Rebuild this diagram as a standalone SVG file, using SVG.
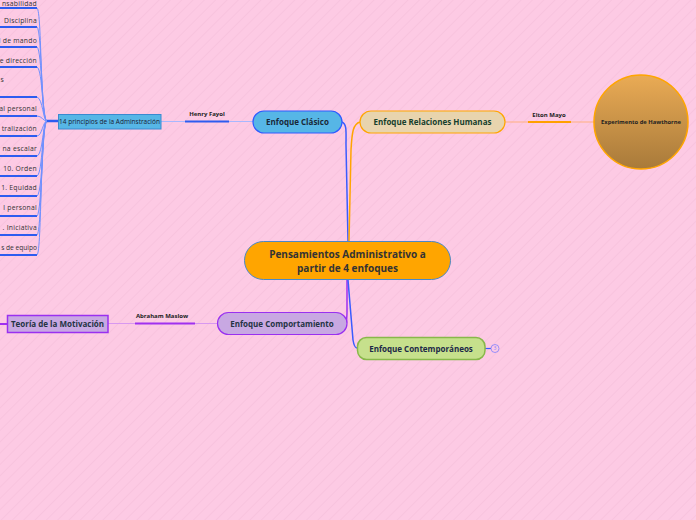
<svg xmlns="http://www.w3.org/2000/svg" width="696" height="520" viewBox="0 0 696 520">
<defs>
<pattern id="stripes" width="8" height="8" patternUnits="userSpaceOnUse" patternTransform="rotate(45)">
<rect width="8" height="8" fill="#fdcae4"/>
<line x1="0" y1="0" x2="0" y2="8" stroke="#f4bcd8" stroke-width="1"/>
</pattern>
<linearGradient id="circ" x1="0" y1="0" x2="0" y2="1">
<stop offset="0" stop-color="#eaab55"/>
<stop offset="1" stop-color="#a87a3a"/>
</linearGradient>
<style>
text{font-family:"Open Sans","Noto Sans","Liberation Sans",sans-serif;}
.item{font-size:6.8px;fill:#333;text-anchor:end;letter-spacing:0.25px;}
.ul{stroke:#2c5cf0;stroke-width:2;fill:none;}
.br{stroke:#7090ff;stroke-width:1;fill:none;}
.lbl{font-size:6px;font-weight:bold;fill:#222;text-anchor:middle;}
.title{font-size:8px;font-weight:bold;text-anchor:middle;}
</style>
</defs>
<rect width="696" height="520" fill="url(#stripes)"/>

<g id="connectors">
<g>
<path class="ul" d="M0 8 H37"/>
<path class="ul" d="M0 27 H37"/>
<path class="ul" d="M0 47 H37"/>
<path class="ul" d="M0 67 H37"/>
<path class="ul" d="M0 97 H37"/>
<path class="ul" d="M0 116 H37"/>
<path class="ul" d="M0 136 H37"/>
<path class="ul" d="M0 156 H37"/>
<path class="ul" d="M0 176 H37"/>
<path class="ul" d="M0 196 H37"/>
<path class="ul" d="M0 216 H37"/>
<path class="ul" d="M0 235 H37"/>
<path class="ul" d="M0 255 H37"/>
<path class="br" d="M47 121 C40 121 42 11 37 8"/>
<path class="br" d="M47 121 C41 121 42 30 37 27"/>
<path class="br" d="M47 121 C42 121 42 50 37 47"/>
<path class="br" d="M47 121 C42 121 43 70 37 67"/>
<path class="br" d="M47 121 C43 121 43 99 37 97"/>
<path class="br" d="M47 121 C43 121 42 116 37 116"/>
<path class="br" d="M47 121 C43 121 42 136 37 136"/>
<path class="br" d="M47 121 C43 121 43 154 37 156"/>
<path class="br" d="M47 121 C42 121 43 173 37 176"/>
<path class="br" d="M47 121 C42 121 43 193 37 196"/>
<path class="br" d="M47 121 C42 121 42 213 37 216"/>
<path class="br" d="M47 121 C41 121 42 232 37 235"/>
<path class="br" d="M47 121 C40 121 42 252 37 255"/>
<path d="M47 121 H58" stroke="#2c5cf0" stroke-width="2.5"/>
</g>
<path d="M161 121.5 H253" stroke="#a8b8ff" stroke-width="1.2"/>
<path d="M185 121.5 H229" stroke="#2c5cf0" stroke-width="2"/>
<text class="lbl" x="207" y="116">Henry Fayol</text>
<path d="M505 122 H594" stroke="#ffb080" stroke-width="1.2"/>
<path d="M528 122 H571" stroke="#ffa000" stroke-width="2"/>
<text class="lbl" x="549" y="116.5">Elton Mayo</text>
<path d="M108 323.5 H217" stroke="#d898f0" stroke-width="1.2"/>
<path d="M135 323.5 H195" stroke="#a030f0" stroke-width="2"/>
<path d="M0 324 H7" stroke="#a030f0" stroke-width="2"/>
<text class="lbl" x="162" y="318">Abraham  Maslow</text>
<path d="M342 122 C347 124 346 132 346 145 L348 241" stroke="#3a5cff" stroke-width="1.5" fill="none"/>
<path d="M360 122 C353 124 352 132 351 150 L349 241" stroke="#ffa500" stroke-width="1.5" fill="none"/>
<path d="M347 280 L347 312 C347 318 346 322 347 323" stroke="#a030f0" stroke-width="1.5" fill="none"/>
<path d="M348 280 L353 340 C354 346 355 348 357 348" stroke="#3a5cff" stroke-width="1.5" fill="none"/>
<path d="M485 348.5 H491" stroke="#3a5cff" stroke-width="1.2"/>
</g>

<g id="principles">
<text class="item" x="37" y="5.5">nsabilidad</text>
<text class="item" x="37" y="23">Disciplina</text>
<text class="item" x="37" y="43">l de mando</text>
<text class="item" x="37" y="63">e dirección</text>
<text class="item" x="4" y="82">s</text>
<text class="item" x="37" y="111">al personal</text>
<text class="item" x="37" y="131">tralización</text>
<text class="item" x="37" y="151">na escalar</text>
<text class="item" x="37" y="171">10.  Orden</text>
<text class="item" x="37" y="190">1.  Equidad</text>
<text class="item" x="37" y="210">l personal</text>
<text class="item" x="37" y="230">.  Iniciativa</text>
<text class="item" x="37" y="250" style="letter-spacing:0;font-size:6.6px">s de equipo</text>
</g>

<g id="principios">
<rect x="58.5" y="114.5" width="102.5" height="14.5" fill="#56b6e6" stroke="#3a8ad0" stroke-width="1"/>
<text x="109.5" y="124" font-size="6.5" fill="#1a2030" text-anchor="middle">14 principios de la Adminstración</text>
</g>

<g id="clasico">
<rect x="253" y="111" width="89" height="22" rx="11" fill="#56b6e6" stroke="#2e5bff" stroke-width="1.2"/>
<text class="title" x="297.5" y="125" fill="#1a2838">Enfoque Clásico</text>
</g>

<g id="relaciones">
<rect x="360" y="111" width="145" height="22" rx="11" fill="#e8d4ae" stroke="#ffa500" stroke-width="1.2"/>
<text class="title" x="432.5" y="125" fill="#16402c">Enfoque Relaciones Humanas</text>
</g>

<g id="hawthorne">
<circle cx="641" cy="122" r="47" fill="url(#circ)" stroke="#ffa500" stroke-width="1.5"/>
<text x="641" y="124" font-size="5.8" font-weight="bold" fill="#222" text-anchor="middle">Experimento de Hawthorne</text>
</g>

<g id="centro">
<rect x="244.5" y="241.5" width="206" height="38" rx="19" fill="#ffa500" stroke="#4a88c8" stroke-width="1"/>
<text x="347.5" y="258" font-size="10" font-weight="bold" fill="#333" text-anchor="middle">Pensamientos Administrativo a</text>
<text x="347.5" y="272" font-size="10" font-weight="bold" fill="#333" text-anchor="middle">partir de 4 enfoques</text>
</g>

<g id="comportamiento">
<rect x="217.5" y="312.5" width="129.5" height="22" rx="11" fill="#c8a8e2" stroke="#9a30f0" stroke-width="1.2"/>
<text class="title" x="282" y="326.5" fill="#243444">Enfoque Comportamiento</text>
</g>

<g id="motivacion">
<rect x="7.5" y="315.5" width="100.5" height="17" fill="#c8a8e2" stroke="#9a30f0" stroke-width="1.5"/>
<text class="title" x="57.5" y="327" fill="#243444">Teoría de la Motivación</text>
</g>

<g id="contemporaneos">
<rect x="357.5" y="337.5" width="127.5" height="22" rx="9" fill="#c6e08c" stroke="#88b84a" stroke-width="1.5"/>
<text class="title" x="421" y="351.5" fill="#1c2848">Enfoque Contemporáneos</text>
<circle cx="495" cy="348.5" r="4" fill="none" stroke="#8080ff" stroke-width="0.8"/>
<text x="495" y="350.3" font-size="5" fill="#8080ff" text-anchor="middle">3</text>
</g>
</svg>
